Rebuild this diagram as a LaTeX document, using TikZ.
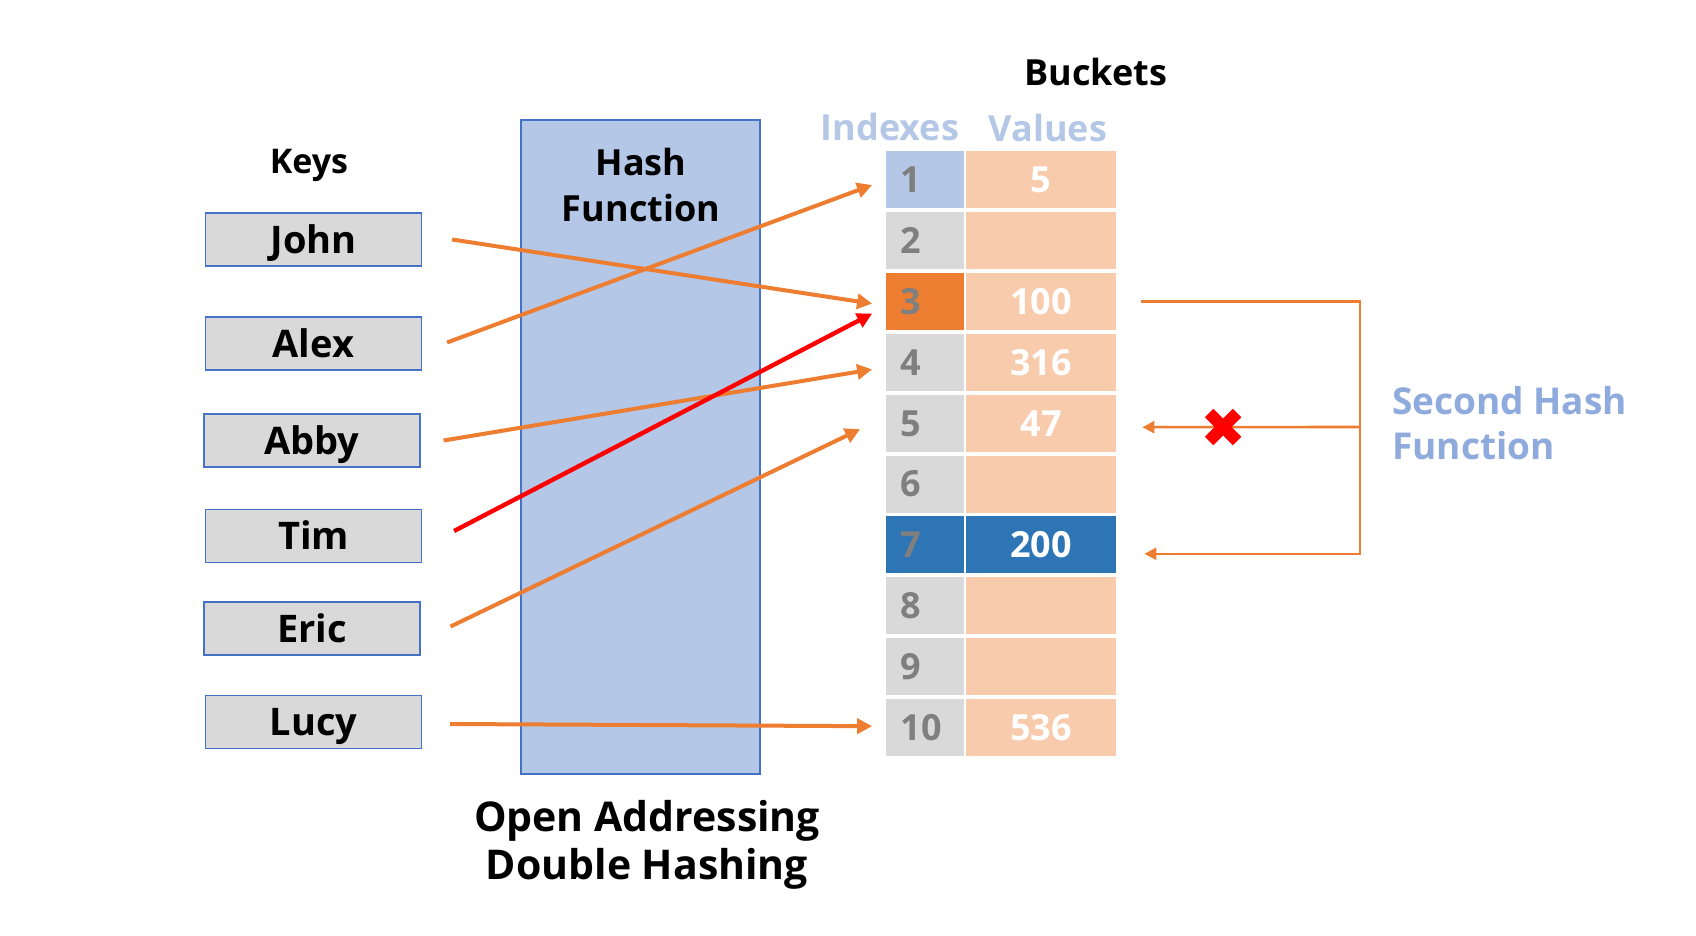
\documentclass[tikz,border=0pt]{standalone}
\usepackage{fontspec}
\setmainfont{Open Sans}
\usetikzlibrary{arrows.meta,calc}
\definecolor{hashblue}{HTML}{B4C7E7}
\definecolor{edgeblue}{HTML}{4472C4}
\definecolor{keygray}{HTML}{D9D9D9}
\definecolor{numgray}{HTML}{7F7F7F}
\definecolor{mapor}{HTML}{ED7D31}
\definecolor{valpeach}{HTML}{F8CBAD}
\definecolor{hitblue}{HTML}{2E75B6}
\definecolor{headblue}{HTML}{B4C7E7}
\definecolor{secblue}{HTML}{8FAADC}
\tikzset{
  keybox/.style={draw=edgeblue, line width=0.6pt, fill=keygray, minimum width=108pt, minimum height=26.5pt, inner sep=0pt, text height=13.7pt, text depth=0pt, font=\bfseries\fontsize{19}{22}\selectfont},
  cell/.style={minimum height=28.5pt, inner sep=0pt, text height=12.9pt, text depth=0pt, font=\bfseries\fontsize{18}{21}\selectfont},
  idx/.style={cell, text width=24pt, inner xsep=7.5pt, align=left, text=numgray},
  val/.style={cell, minimum width=75pt, text=white},
  maparrow/.style={mapor, line width=2pt, -{Triangle[length=7.5pt,width=7.5pt]}},
  hitarrow/.style={maparrow, red, line width=2.2pt},
  secline/.style={mapor, line width=1.3pt, -{Triangle[length=6pt,width=6pt]}},
  title/.style={font=\bfseries\fontsize{18}{22.5}\selectfont, align=center}
}
\begin{document}
\begin{tikzpicture}[x=0.5pt,y=-0.5pt]
\useasboundingbox[fill=white] (0,0) rectangle (1696,936);
% keys
\node[title, font=\bfseries\fontsize{17}{20}\selectfont] (keys) at (309,165) {Keys};
\node[keybox] (john) at (313.5,239.5) {John};
\node[keybox] (alex) at (313.5,343.5) {Alex};
\node[keybox] (abby) at (312,440.5) {Abby};
\node[keybox] (tim) at (313.5,536) {Tim};
\node[keybox] (eric) at (312,628.5) {Eric};
\node[keybox] (lucy) at (313.5,722) {Lucy};
% hash function
\node[draw=edgeblue, line width=0.6pt, fill=hashblue, minimum width=119.5pt, minimum height=327pt] (hashbox) at (640.5,447) {};
\node[title] (hashtxt) at (641,185) {Hash\\Function};
\node[title, font=\bfseries\fontsize{20.5}{24.3}\selectfont] (method) at (647,845) {Open Addressing\\Double Hashing};
% buckets
\node[title] (buckets) at (1096,72) {Buckets};
\node[title, text=headblue] (idxhead) at (890,127) {Indexes};
\node[title, text=headblue] (valhead) at (1048,128) {Values};
\foreach \k/\v/\ifill/\vfill in {1/5/hashblue/valpeach, 2/{}/keygray/valpeach, 3/100/mapor/valpeach, 4/316/keygray/valpeach, 5/47/keygray/valpeach, 6/{}/keygray/valpeach, 7/200/hitblue/hitblue, 8/{}/keygray/valpeach, 9/{}/keygray/valpeach, 10/536/keygray/valpeach} {
  \node[idx, fill=\ifill] (i\k) at (924.5,{180+(\k-1)*60.8}) {\k};
  \node[val, fill=\vfill] (v\k) at (1041,{180+(\k-1)*60.8}) {\v};
}
% key to bucket
\draw[maparrow] ($(john.east)+(30,0)$) -- ($(i3.west)+(-13,2)$);
\draw[maparrow] ($(alex.east)+(25,-1)$) -- ($(i1.west)+(-13,5)$);
\draw[maparrow] ($(abby.east)+(23,0)$) -- ($(i4.west)+(-13,7)$);
\draw[hitarrow] ($(tim.east)+(32,-5)$) -- ($(i3.west)+(-13,12)$);
\draw[maparrow] ($(eric.east)+(30,-2)$) -- ($(i5.west)+(-25,6)$);
\draw[maparrow] ($(lucy.east)+(28,2)$) -- ($(i10.west)+(-13,-1)$);
% second hash
\coordinate (bend) at (1360,427);
\draw[secline] ($(v3.east)+(25,0)$) -| (bend) |- ($(v7.east)+(28,9)$);
\draw[secline] (bend) -- ($(v5.east)+(26,4)$);
\node (cross) at (1223,427) {};
\draw[red, line width=6pt] ($(cross)+(-14,-14)$) -- ($(cross)+(14,14)$);
\draw[red, line width=6pt] ($(cross)+(-14,14)$) -- ($(cross)+(14,-14)$);
\node[title, font=\bfseries\fontsize{18.5}{22.5}\selectfont, text=secblue, align=left, anchor=west] (sechash) at (1385,423) {Second Hash\\Function};
\end{tikzpicture}
\end{document}
